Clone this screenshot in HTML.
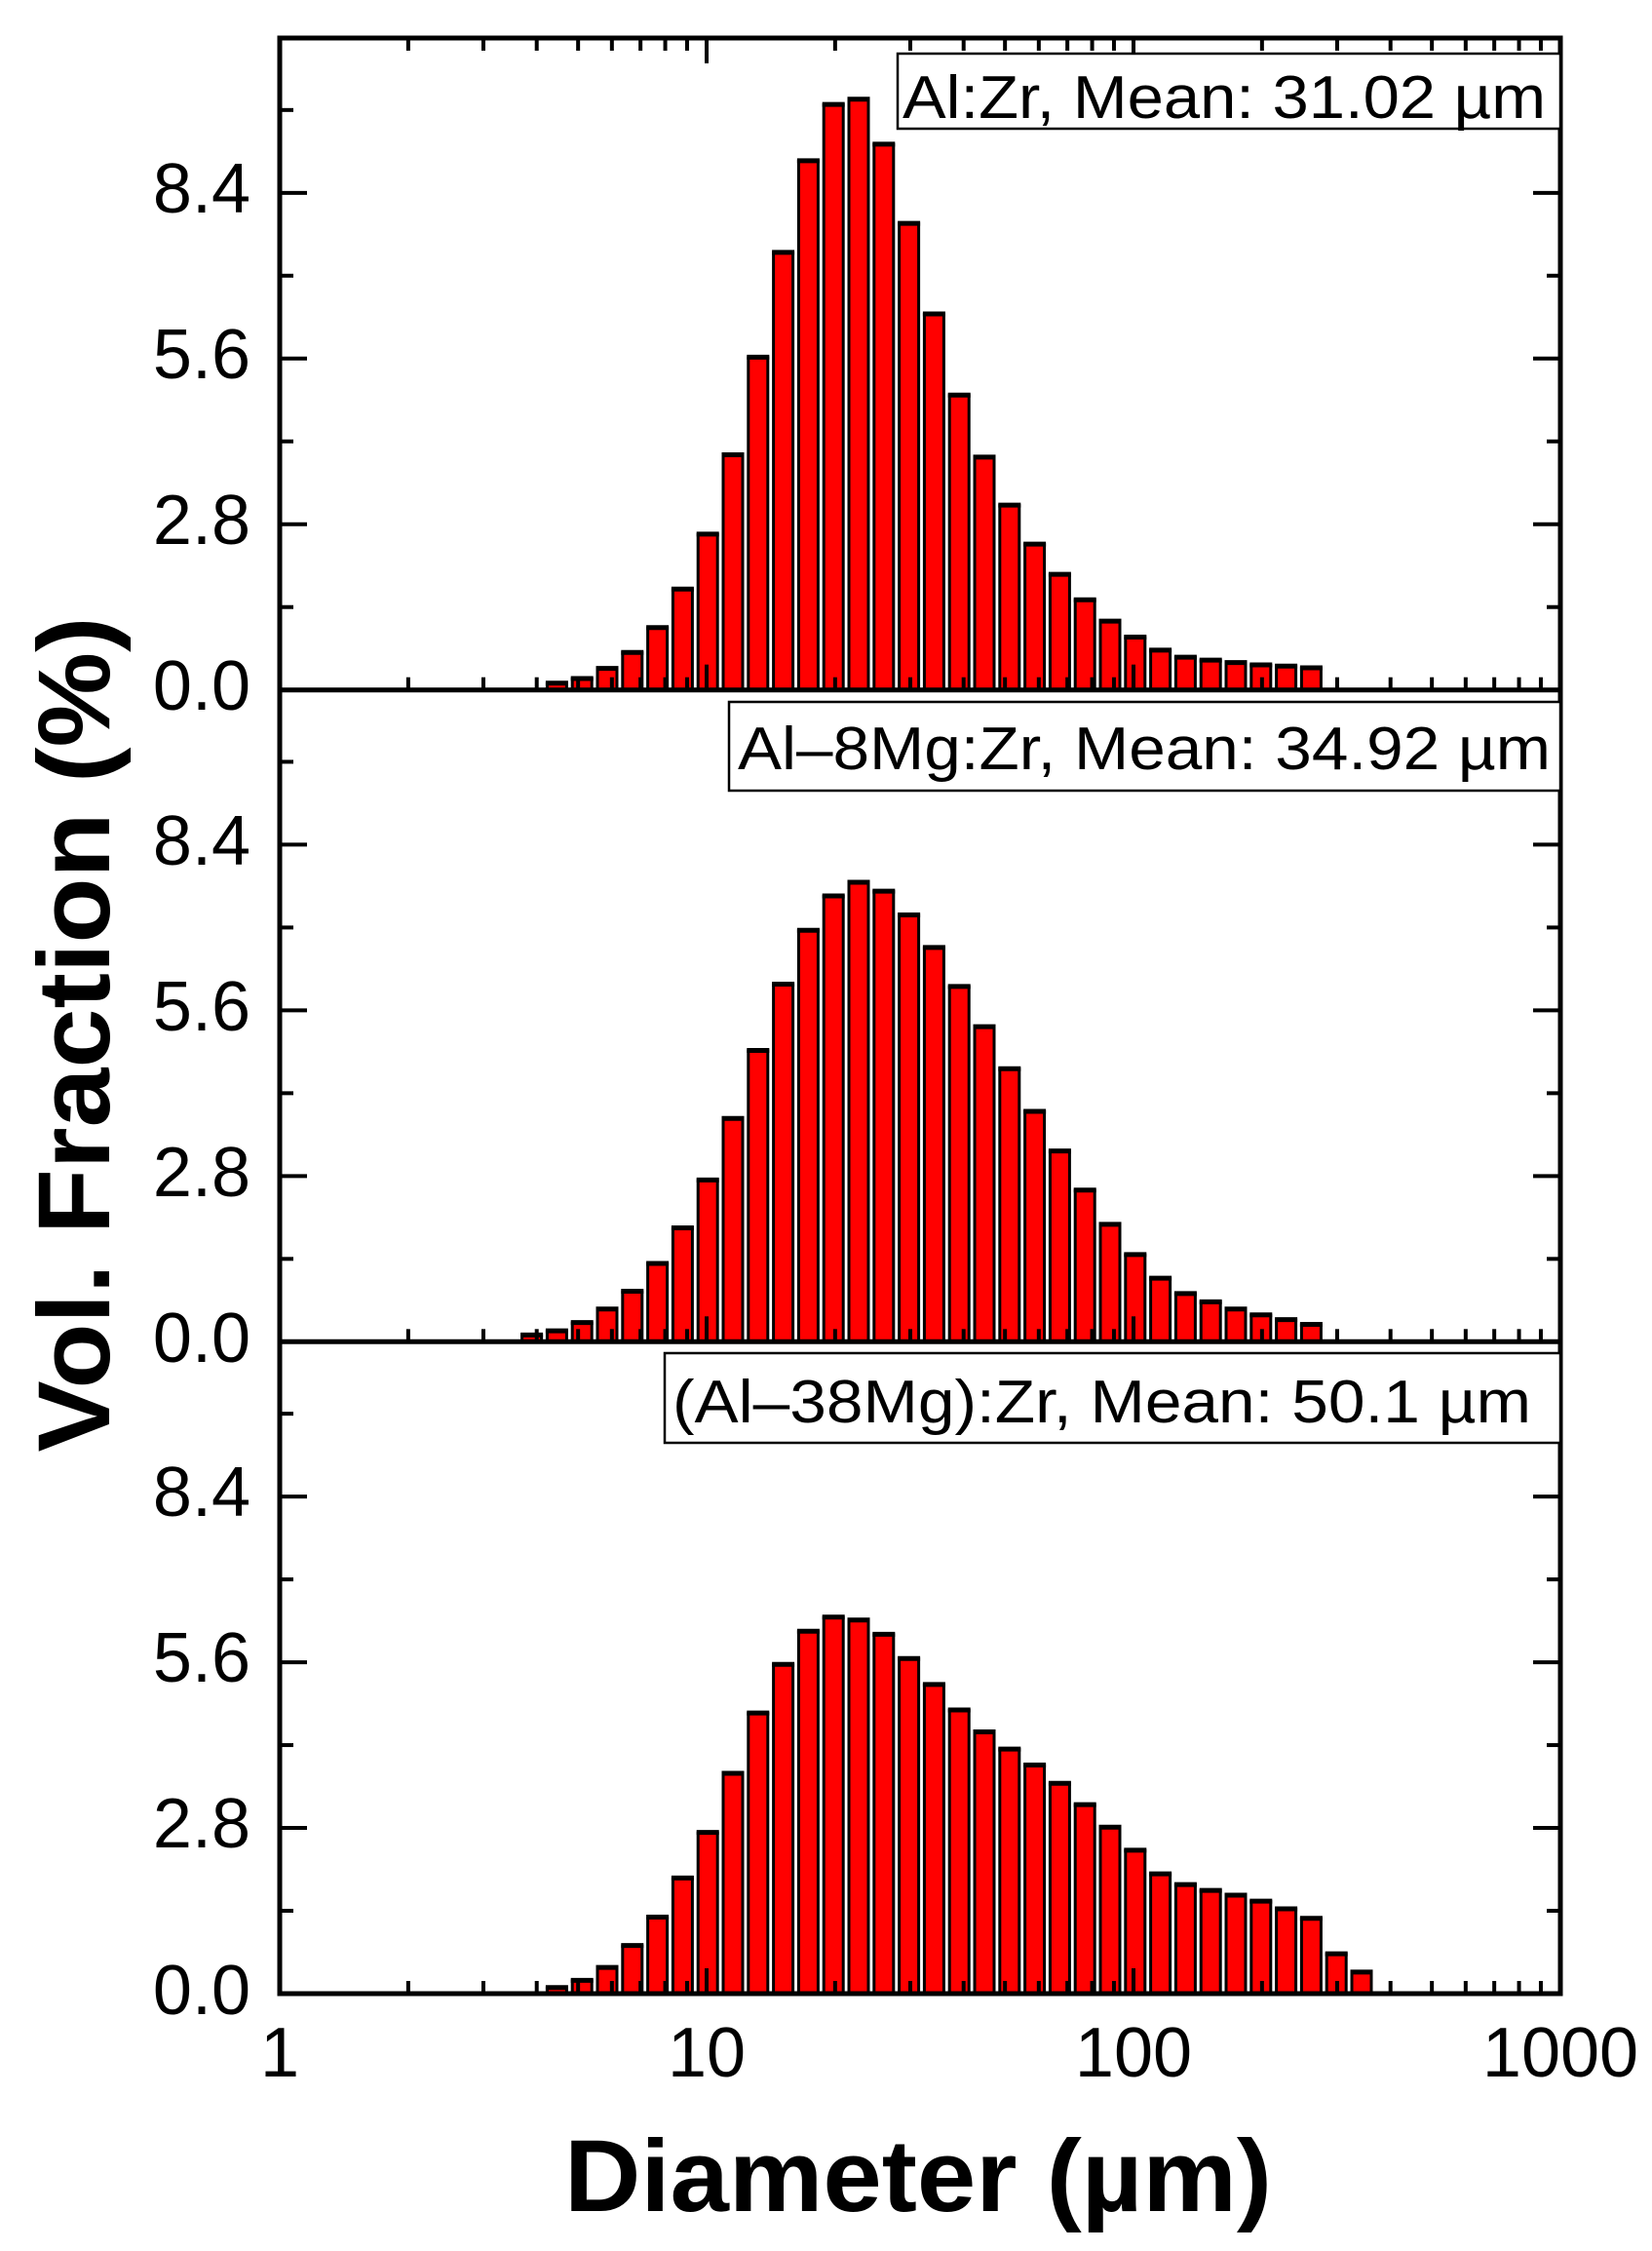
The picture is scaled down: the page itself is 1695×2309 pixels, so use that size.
<!DOCTYPE html>
<html><head><meta charset="utf-8"><style>
html,body{margin:0;padding:0;background:#fff;}
svg{display:block;}
text{font-family:"Liberation Sans",Arial,sans-serif;fill:#000;}
</style></head><body>
<svg id="s" width="1695" height="2309" viewBox="0 0 1695 2309" xmlns="http://www.w3.org/2000/svg">
<rect width="1695" height="2309" fill="#fff"/>
<g id="bars"></g>
<g id="ticks" stroke="#000" stroke-width="4" fill="none"></g>
<g stroke="#000" stroke-width="5" fill="none">
<rect x="287" y="39" width="1314" height="2006"/>
<line x1="287" y1="707.7" x2="1601" y2="707.7"/>
<line x1="287" y1="1376.3" x2="1601" y2="1376.3"/>
</g>
<g stroke="#000" stroke-width="2.5" fill="#fff">
<rect x="921" y="55" width="680" height="77"/>
<rect x="748" y="720" width="853" height="91"/>
<rect x="682" y="1388" width="919" height="92"/>
</g>
<g font-size="62">
<text x="926" y="121" textLength="660" lengthAdjust="spacingAndGlyphs">Al:Zr, Mean: 31.02 µm</text>
<text x="757" y="789" textLength="834" lengthAdjust="spacingAndGlyphs">Al–8Mg:Zr, Mean: 34.92 µm</text>
<text x="690" y="1459" textLength="881" lengthAdjust="spacingAndGlyphs">(Al–38Mg):Zr, Mean: 50.1 µm</text>
</g>
<g font-size="72" text-anchor="end">
<text x="257" y="218">8.4</text><text x="257" y="388">5.6</text><text x="257" y="558">2.8</text><text x="257" y="728">0.0</text>
<text x="257" y="887">8.4</text><text x="257" y="1057">5.6</text><text x="257" y="1227">2.8</text><text x="257" y="1397">0.0</text>
<text x="257" y="1555">8.4</text><text x="257" y="1725">5.6</text><text x="257" y="1895">2.8</text><text x="257" y="2066">0.0</text>
</g>
<g font-size="72" text-anchor="middle">
<text x="287" y="2130">1</text><text x="725" y="2130">10</text><text x="1163" y="2130">100</text><text x="1601" y="2130">1000</text>
</g>
<text x="942" y="2268" font-size="105" font-weight="bold" text-anchor="middle" textLength="726" lengthAdjust="spacingAndGlyphs">Diameter (µm)</text>
<text transform="translate(112,1061) rotate(-90)" x="0" y="0" font-size="105" font-weight="bold" text-anchor="middle" textLength="857" lengthAdjust="spacingAndGlyphs">Vol. Fraction (%)</text>
</svg>
<script>
(function(){
var NS="http://www.w3.org/2000/svg";
var bars=document.getElementById("bars"),ticks=document.getElementById("ticks");
var bases=[707.7,1376.3,2045],U=60.7;
function X(v){return 287+438*Math.log10(v);}
var p1=[0.13,0.21,0.38,0.65,1.07,1.72,2.65,3.99,5.64,7.41,8.96,9.91,10.0,9.24,7.9,6.37,5.0,3.95,3.14,2.48,1.97,1.54,1.18,0.91,0.69,0.57,0.52,0.48,0.44,0.42,0.39];
var p2=[0.13,0.2,0.34,0.57,0.87,1.34,1.94,2.75,3.79,4.94,6.06,6.97,7.55,7.78,7.63,7.23,6.68,6.02,5.34,4.63,3.91,3.24,2.58,2.0,1.49,1.09,0.83,0.69,0.57,0.47,0.39,0.31];
var p3=[0.12,0.24,0.46,0.83,1.31,1.97,2.74,3.74,4.76,5.58,6.14,6.38,6.33,6.09,5.68,5.24,4.81,4.44,4.15,3.88,3.57,3.21,2.83,2.44,2.04,1.86,1.76,1.68,1.58,1.45,1.29,0.69,0.38];
function draw(arr,start,base){
 for(var k=0;k<arr.length;k++){
  var c=571.4+25.8*(start+k),h=arr[k]*U;
  var r=document.createElementNS(NS,"rect");
  r.setAttribute("x",c-10);r.setAttribute("width",20);
  r.setAttribute("y",base-h+1.5);r.setAttribute("height",Math.max(h-1.5,0));
  r.setAttribute("fill","#ff0000");r.setAttribute("stroke","#000");r.setAttribute("stroke-width","3");
  bars.appendChild(r);
  var t=document.createElementNS(NS,"line");
  t.setAttribute("x1",c-11.5);t.setAttribute("x2",c+11.5);t.setAttribute("y1",base-h+1);t.setAttribute("y2",base-h+1);
  t.setAttribute("stroke","#000");t.setAttribute("stroke-width","5");bars.appendChild(t);
 }
}
draw(p1,0,bases[0]);draw(p2,-1,bases[1]);draw(p3,0,bases[2]);
function L(x1,y1,x2,y2){var l=document.createElementNS(NS,"line");l.setAttribute("x1",x1);l.setAttribute("y1",y1);l.setAttribute("x2",x2);l.setAttribute("y2",y2);ticks.appendChild(l);}
for(var p=0;p<3;p++){var b=bases[p];
 for(var j=1;j<=7;j++){var y=b-j*1.4*U,len=(j%2==0)?28:14;L(287,y,287+len,y);L(1601,y,1601-len,y);}
}
for(var d=0;d<3;d++){for(var m=1;m<=9;m++){var v=m*Math.pow(10,d);if(v==1)continue;var x=X(v),len=(m==1)?26:13;
 L(x,39,x,39+len);for(var p=0;p<3;p++){L(x,bases[p],x,bases[p]-len);}}}
})();
</script>
</body></html>
